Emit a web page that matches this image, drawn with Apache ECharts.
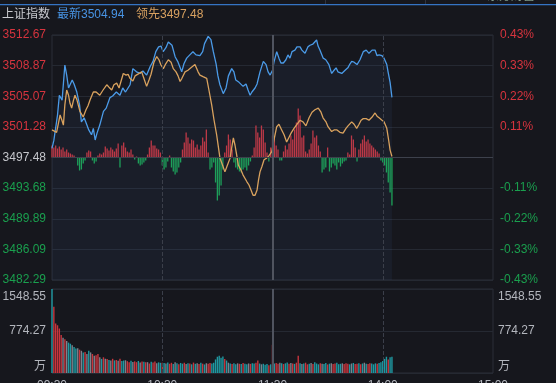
<!DOCTYPE html>
<html><head><meta charset="utf-8">
<script src="https://cdn.jsdelivr.net/npm/echarts@6/dist/echarts.min.js"></script>
<style>html,body{margin:0;padding:0;background:#16171d;overflow:hidden}#c{width:556px;height:383px}</style>
</head><body><div id="c"></div>
<script>
// ---- data ----
const leftLabels = ['3482.29','3486.09','3489.89','3493.68','3497.48','3501.28','3505.07','3508.87','3512.67'];
const pctLabels = ['-0.43%','-0.33%','-0.22%','-0.11%','','0.11%','0.22%','0.33%','0.43%'];
const volLabels = ['万','774.27','1548.55'];
const timeLabels = ['09:30','10:30','11:30','14:00','15:00'];
const priceMin = 3482.29, priceMax = 3512.67, volMax = 1548.55;

const priceMinutes = [0,1,3,4,5.5,7,8,9,11,12,13.5,15,16,17.5,19,20,21.5,22.5,23.5,24.5,
26,28,29.5,31.5,33,35,37,38.5,40,42.5,44,46,48,49.5,51.5,53.5,55,56.5,58,59.3,
60.5,62,63.3,64.2,65.3,67,68.6,70.6,71.8,73.3,75,76.7,78.4,80.5,82,83,85,86.5,87.8,89.3,
90.3,91.4,93.2,94.7,96,97.8,99,100,101.8,104,105.6,106.7,107.8,108.8,110.5,111.6,113.2,115,116.5,117.6,
118.7,120,120.8,122.3,123.5,124.6,125.9,127.3,128.4,129.5,130.6,132.2,133.3,135,136,137.7,139.3,140.4,142,144,
144.8,145.8,147.6,149,150.7,152.2,153.5,154.6,155.6,157.7,159.5,161,162.2,163.1,164.4,166,167.6,169.4,171,172.5,
174.2,175.8,176.9,178,179.6,180.7,182.2,182.9,184,185];
const priceValues = [3498.62,3499.6,3502.75,3505.2,3504.6,3508.95,3507.7,3506.1,3507.1,3506.6,
3505.6,3504.0,3501.9,3502.4,3501.5,3500.9,3500.3,3501.1,3499.65,3500.5,
3501.5,3503.2,3503.6,3504.9,3505.1,3505.6,3505.2,3506.1,3505.6,3506.5,
3508.5,3508.1,3507.9,3508.2,3507.7,3508.8,3509.4,3510.6,3511.2,3511.3,
3510.6,3511.1,3511.8,3511.8,3511.4,3509.98,3509.3,3508.1,3509.1,3509.8,
3510.2,3510.6,3510.2,3510.1,3510.6,3511.6,3512.5,3512.1,3510.6,3509.1,
3507.6,3506.5,3505.4,3506.1,3507.6,3508.5,3508.1,3507.1,3506.8,3506.3,
3506.6,3505.85,3505.2,3505.6,3506.1,3506.6,3508.1,3509.4,3509.0,3508.1,
3507.7,3508.3,3509.3,3510.6,3509.8,3509.2,3509.2,3509.6,3510.2,3509.8,
3510.6,3510.8,3511.2,3511.2,3510.8,3510.4,3511.2,3511.4,3511.55,3512.05,
3511.3,3510.8,3509.8,3509.6,3509.0,3507.9,3508.3,3508.6,3508.1,3507.9,
3508.3,3508.6,3509.1,3509.4,3509.3,3509.0,3509.6,3510.6,3510.8,3510.4,
3510.8,3510.8,3510.1,3510.2,3510.1,3509.8,3509.0,3508.1,3506.8,3504.94];

const leadMinutes = [0,1,2.5,4.4,5.4,6.2,7,8,9,9.8,10.7,11.7,12.5,13.6,15.2,17,18.5,19.6,20.7,22.5,
24,26,27.8,29.8,31,32.5,33.7,35.2,36.5,37,38.8,40.3,41.4,42.4,44,45.2,48.8,50,51.5,52.8,
53.9,55.5,57,58.2,59.3,60.6,61.9,63.3,64.8,66,67.5,68.6,69.7,70.7,72.4,74,75.6,77.8,79.5,80.5,
82.2,84.2,85.4,86.9,88.2,89.6,90.6,91.4,92.8,94.1,95.5,96.9,97.8,98.7,99.6,100.5,101.4,102.9,104,106,
107.2,108.3,109.4,110.5,111.6,112.4,113.2,114.3,115.4,116.8,118.1,119.6,120.8,122.3,123.5,125,126.3,127.7,129,130.1,
131.7,133.3,135,136.6,138.2,139.9,141.5,143.1,144.9,146.4,147.5,149.1,150.2,152.2,153.5,155.1,156.7,158.4,160,161.1,
163.1,164.4,165.8,167.1,168.2,169.4,171,172.5,174.2,175.8,176.9,178,179.6,180.7,182.2,183.2,184,185];
const leadValues = [3500.9,3501.1,3500.6,3502.75,3502.1,3501.5,3504.0,3505.85,3505.2,3504.2,
3503.6,3504.6,3505.2,3504.6,3503.2,3502.5,3503.4,3503.9,3504.6,3505.6,
3505.6,3505.2,3505.85,3506.5,3506.2,3505.85,3506.5,3506.7,3506.1,3506.5,
3507.9,3507.7,3507.8,3507.3,3506.97,3507.6,3508.1,3507.3,3506.3,3507.1,
3507.8,3509.3,3510.0,3509.6,3508.95,3508.5,3509.1,3509.6,3509.3,3508.5,
3508.1,3507.6,3506.9,3507.3,3508.1,3508.3,3508.6,3509.0,3508.1,3507.7,
3507.5,3507.3,3505.85,3504.0,3502.1,3500.3,3498.7,3497.4,3496.55,3495.7,
3496.55,3497.4,3498.7,3499.9,3499.0,3497.8,3496.55,3495.9,3495.3,3494.5,
3494.07,3493.45,3492.8,3492.8,3493.45,3494.7,3495.7,3496.4,3497.2,3497.4,
3497.7,3498.2,3499.65,3501.3,3501.6,3500.9,3500.3,3499.4,3500.0,3500.5,
3501.1,3501.6,3502.1,3501.9,3501.4,3502.4,3503.1,3503.4,3503.6,3503.1,
3502.4,3501.9,3501.3,3500.7,3500.9,3500.9,3500.6,3500.5,3501.1,3501.4,
3501.9,3501.6,3501.1,3501.6,3502.1,3502.3,3502.3,3502.1,3502.5,3503.0,
3502.6,3502.4,3502.1,3501.9,3501.1,3499.65,3498.4,3497.6];

// buy/sell strength per minute (arbitrary units)
const flowValues = [12,10,12,9,11,8,10,6,8,5,
4,3,2,0,-8,-13,-12,-6,-3,5,
7,6,-3,-6,-4,2,4,3,5,11,
9,7,10,8,6,9,14,-10,12,15,
10,6,5,8,3,-2,1,-6,-8,-7,
-5,-3,3,10,17,12,12,9,8,5,
-8,-12,-10,-4,2,-10,-14,-17,-15,-10,
-5,8,15,25,20,14,18,17,10,13,
8,12,20,16,28,5,-12,-10,-5,-25,
-43,-38,-28,-12,5,12,23,18,8,-5,
-10,-12,-14,-15,-12,-10,-13,-8,-4,2,
10,32,25,20,32,28,15,5,-4,10,
22,20,12,8,-3,-3,6,12,8,14,
22,18,28,35,49,42,20,22,6,4,
8,14,27,20,22,12,6,-15,-12,-10,
10,-14,-10,-6,-8,-12,-5,-9,-6,-4,
-3,5,3,22,18,10,-4,8,14,18,
22,16,18,14,12,10,8,6,4,-3,
-5,-8,-15,-25,-35,-48];

// volume per minute (万)
const volumeValues = [1548.55,1221,913,880,820,700,650,620,590,560,
540,510,480,450,455,430,410,380,385,350,
410,380,350,320,325,350,290,260,290,262,
258,240,230,262,232,240,228,262,222,230,
235,218,200,228,205,215,200,222,195,212,
206,198,200,175,208,192,212,180,196,188,
190,185,175,195,170,188,165,200,178,160,
185,172,190,168,182,175,160,192,170,180,
165,188,172,158,180,170,186,175,190,250,
300,320,280,305,260,230,190,175,168,182,
160,178,170,165,185,172,160,176,168,180,
175,190,230,175,160,170,150,165,145,160,
520,175,185,170,190,180,165,178,192,170,
185,176,168,190,320,180,165,175,190,160,
172,185,168,200,175,160,180,170,165,185,
158,172,180,165,175,190,162,170,178,165,
182,170,160,175,185,168,172,180,160,175,
190,170,165,182,175,160,178,170,185,200,
220,260,300,250,290,300];
// r = up, t = down, g = flat
const volumeDir = "trrrrrgrgt"+"tgttgrgtrg"+"tgrgrrgtrg"+"rtgrtrgrtt"+"grrtgrrtgr"+
"trgrtrrgtt"+"rtgtrrtgtr"+"ttrgtrtrtg"+"rtrtgrrttt"+"ttttrtgtrt"+
"tgrtrttgrt"+"trrtgtttrt"+"rtrrgtrttr"+"grtrrtgtrr"+"tgrtttrgtt"+
"rtgrrtttgr"+"rrtgtrrtrt"+"gtrrtttrtt"+"tttrtt";

// ---- chart ----
const FONT = "'Liberation Sans','Noto Sans CJK SC',sans-serif";
const RED = '#d7343e', GREEN = '#1a9f4e', MID = '#c4c6cb', AX = '#b3b6bd';
const VCOL = {r:'#c7353d', t:'#1f98a1', g:'#7d818c'};
const lab = v => { v = Math.round(Number(v)); return v > 0 ? RED : (v < 0 ? GREEN : MID); };

const price = priceMinutes.map((m,i)=>[m, priceValues[i]]);
const lead = leadMinutes.map((m,i)=>[m, leadValues[i]]);
const flow = flowValues.map((v,i)=>[i, v]);
const vol = volumeValues.map((v,i)=>[i, v]);

const vLine = (x, solid) => ({xAxis:x, lineStyle:{color: solid?'#50545f':'#3b3f4a', width: solid?2:1, type: solid?'solid':'dashed'}});
const volFmt = v => { const i = Math.round(v/(volMax/2)); return i===2 ? '{t|'+volLabels[i]+'}' : (i===0 ? '{b|'+volLabels[i]+'}' : volLabels[i]); };
const volRich = {t:{color:AX,fontSize:12,fontFamily:FONT,padding:[16,0,0,0]}, b:{color:AX,fontSize:12,fontFamily:FONT,padding:[0,0,12,0]}};

const chart = echarts.init(document.getElementById('c'));
chart.setOption({
  backgroundColor:'#16171d',
  animation:false,
  grid:[
    {left:52, top:35, right:63, bottom:103, outerBoundsMode:'none', containLabel:false, show:true, borderColor:'#2a2e38', borderWidth:1, backgroundColor:'transparent'},
    {left:52, top:289, right:63, bottom:10, outerBoundsMode:'none', containLabel:false, show:true, borderColor:'#2a2e38', borderWidth:1, backgroundColor:'transparent'}
  ],
  xAxis:[
    {type:'value', gridIndex:0, min:0, max:240, interval:60, axisLabel:{show:false}, axisLine:{show:false}, axisTick:{show:false}, splitLine:{show:false}},
    {type:'value', gridIndex:1, min:0, max:240, interval:60, axisLine:{show:false}, axisTick:{show:false}, splitLine:{show:false},
     axisLabel:{color:AX, fontSize:12, fontFamily:FONT, margin:7, formatter:v=>timeLabels[Math.round(v/60)]}}
  ],
  yAxis:[
    {type:'value', gridIndex:0, position:'left', min:-4, max:4, interval:1, axisLine:{show:false}, axisTick:{show:false},
     axisLabel:{margin:6, fontSize:12, fontFamily:FONT, color:v=>lab(v), formatter:v=>leftLabels[Math.round(v)+4]},
     splitLine:{lineStyle:{color:'#252932'}}},
    {type:'value', gridIndex:0, position:'right', min:-4, max:4, interval:1, axisLine:{show:false}, axisTick:{show:false},
     axisLabel:{margin:7, fontSize:12, fontFamily:FONT, color:v=>lab(v), formatter:v=>pctLabels[Math.round(v)+4]},
     splitLine:{show:false}},
    {type:'value', gridIndex:0, min:priceMin, max:priceMax, show:false, splitLine:{show:false}},
    {type:'value', gridIndex:0, min:-122.5, max:122.5, show:false, splitLine:{show:false}},
    {type:'value', gridIndex:1, position:'left', min:0, max:volMax, interval:volMax/2, axisLine:{show:false}, axisTick:{show:false},
     axisLabel:{margin:6, fontSize:12, fontFamily:FONT, color:AX, formatter:volFmt, rich:volRich},
     splitLine:{lineStyle:{color:'#252932'}}},
    {type:'value', gridIndex:1, position:'right', min:0, max:volMax, interval:volMax/2, axisLine:{show:false}, axisTick:{show:false},
     axisLabel:{margin:5, fontSize:12, fontFamily:FONT, color:AX, formatter:volFmt, rich:volRich},
     splitLine:{show:false}}
  ],
  series:[
    {type:'bar', xAxisIndex:0, yAxisIndex:3, data:flow, barWidth:1.3, silent:true,
     itemStyle:{color:p=>p.value[1]>=0?'#c8353e':'#1ba653'},
     markLine:{silent:true, symbol:'none', label:{show:false}, data:[{yAxis:0, lineStyle:{color:'#3d414c', width:1, type:'solid'}}]}},
    {type:'line', xAxisIndex:0, yAxisIndex:2, data:price, showSymbol:false, silent:true,
     lineStyle:{color:'#4b9be8', width:1.3}, itemStyle:{color:'#4b9be8'},
     areaStyle:{color:'rgba(70,110,170,0.12)', origin:'start'},
     markLine:{silent:true, symbol:'none', label:{show:false}, data:[vLine(60,false), vLine(120,true), vLine(180,false)]}},
    {type:'line', xAxisIndex:0, yAxisIndex:2, data:lead, showSymbol:false, silent:true,
     lineStyle:{color:'#d9a25e', width:1.3}, itemStyle:{color:'#d9a25e'}},
    {type:'bar', xAxisIndex:1, yAxisIndex:4, data:vol, barWidth:1.4, silent:true,
     itemStyle:{color:p=>VCOL[volumeDir[p.dataIndex]]||VCOL.g},
     markLine:{silent:true, symbol:'none', label:{show:false}, data:[vLine(60,false), vLine(120,true), vLine(180,false)]}}
  ],
  graphic:[
    {type:'rect', shape:{x:0,y:4,width:556,height:1.2}, style:{fill:'#3574c4'}, silent:true},
    {type:'rect', shape:{x:325,y:0,width:1,height:4}, style:{fill:'#2f3440'}, silent:true},
    {type:'rect', shape:{x:425,y:0,width:1,height:4}, style:{fill:'#2f3440'}, silent:true},
    {type:'text', x:283, y:3, style:{text:'0.0565', fill:GREEN, font:'12px '+FONT, textVerticalAlign:'bottom'}, silent:true},
    {type:'text', x:437, y:3, style:{text:'14:05:04 东方财富', fill:'#7f9a8a', font:'12px '+FONT, textVerticalAlign:'bottom'}, silent:true},
    {type:'text', x:2, y:15, style:{text:'上证指数', fill:'#c9cacf', font:'12px '+FONT, textVerticalAlign:'middle'}, silent:true},
    {type:'text', x:57, y:15, style:{text:'最新3504.94', fill:'#4894e4', font:'12px '+FONT, textVerticalAlign:'middle'}, silent:true},
    {type:'text', x:136, y:15, style:{text:'领先3497.48', fill:'#d8a160', font:'12px '+FONT, textVerticalAlign:'middle'}, silent:true}
  ]
});
</script>
</body></html>
